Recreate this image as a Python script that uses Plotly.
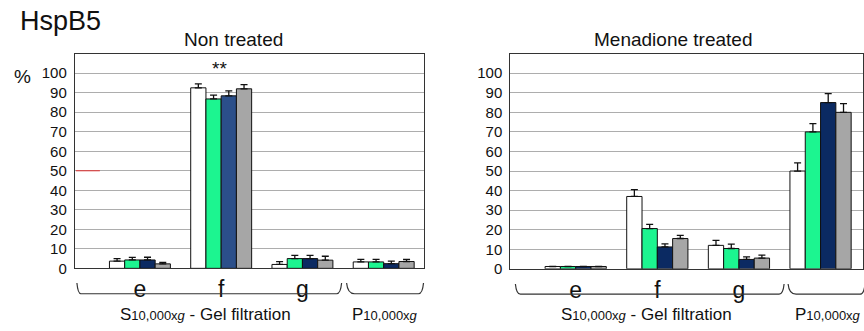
import plotly.graph_objects as go

W, H = 864, 331

# Fractions (e, f, g from the S10,000xg gel filtration; P = P10,000xg pellet)
positions = [0, 1, 2, 3]
category_labels = ["e", "f", "g", ""]
series_names = ["Series 1", "Series 2", "Series 3", "Series 4"]
series_colors = ["#ffffff", "#1cf590", "#0b2a62", "#a6a6a6"]

# Non treated: % per fraction, one list per series
nt_values = [
    [3.7, 92.5, 2.0, 3.3],
    [4.3, 86.8, 5.0, 3.3],
    [4.3, 88.4, 5.0, 2.4],
    [2.3, 92.0, 4.2, 3.5],
]
nt_errors = [
    [1.3, 2.0, 1.4, 1.3],
    [1.3, 2.0, 1.6, 1.3],
    [1.4, 2.5, 1.6, 1.3],
    [0.8, 2.1, 2.0, 1.1],
]

# Menadione treated
mt_values = [
    [1.2, 37.0, 12.0, 50.0],
    [1.2, 20.6, 10.4, 70.0],
    [1.2, 11.2, 4.8, 85.0],
    [1.2, 15.5, 5.5, 80.0],
]
mt_errors = [
    [0, 3.5, 2.6, 4.2],
    [0, 2.1, 2.2, 4.2],
    [0, 1.6, 1.3, 4.6],
    [0, 1.6, 1.5, 4.5],
]

FONT = "Liberation Sans, Arial, sans-serif"


def px(x):
    return x / W


def py(y):
    return 1 - y / H


fig = go.Figure()

for panel, (vals, errs, xa, ya) in enumerate(
    [(nt_values, nt_errors, "x", "y"), (mt_values, mt_errors, "x2", "y2")]
):
    for i in range(4):
        colors = [series_colors[i]] * 4
        if panel == 0 and i == 2:
            # the dominant non-treated fraction f is shaded lighter
            colors[1] = "#2b4f8a"
        fig.add_trace(
            go.Bar(
                x=positions,
                y=vals[i],
                name=series_names[i],
                marker=dict(color=colors, line=dict(color="#111111", width=1)),
                error_y=dict(
                    type="data",
                    symmetric=False,
                    array=errs[i],
                    arrayminus=[0] * 4,
                    color="#111111",
                    thickness=1.3,
                    width=3.5,
                ),
                xaxis=xa,
                yaxis=ya,
                showlegend=False,
            )
        )

common_x = dict(
    tickvals=[0, 1, 2],
    ticktext=category_labels[:3],
    tickfont=dict(size=23, color="#111111", family=FONT),
    showgrid=False,
    showline=True,
    linecolor="#333333",
    linewidth=1.3,
    mirror=True,
    ticks="",
    zeroline=False,
    fixedrange=True,
)
common_y = dict(
    range=[0, 110],
    tickvals=list(range(0, 101, 10)),
    tickfont=dict(size=15, color="#111111", family=FONT),
    ticks="outside",
    ticklen=4,
    tickcolor="rgba(0,0,0,0)",
    showgrid=True,
    gridcolor="#adadad",
    gridwidth=1,
    showline=True,
    linecolor="#333333",
    linewidth=1.3,
    mirror=True,
    zeroline=False,
    fixedrange=True,
)

fig.update_layout(
    width=W,
    height=H,
    margin=dict(l=0, r=0, t=0, b=0),
    paper_bgcolor="white",
    plot_bgcolor="white",
    barmode="group",
    bargap=0.25,
    bargroupgap=0,
    font=dict(family=FONT, color="#111111"),
    xaxis=dict(domain=[px(75), px(424)], anchor="y", range=[-0.8, 3.49], **common_x),
    yaxis=dict(domain=[py(275), py(55)], anchor="x", **common_y),
    xaxis2=dict(domain=[px(511), 1.0], anchor="y2", range=[-0.8, 3.52], **common_x),
    yaxis2=dict(domain=[py(275.5), py(55)], anchor="x2", **common_y),
)

annotations = [
    dict(x=px(18), y=py(22), text="HspB5", font=dict(size=27), xanchor="left"),
    dict(x=px(12), y=py(78), text="%", font=dict(size=19), xanchor="left"),
    dict(x=px(234), y=py(40), text="Non treated", font=dict(size=19)),
    dict(x=px(674), y=py(40), text="Menadione treated", font=dict(size=19)),
    dict(x=px(220), y=py(70), text="**", font=dict(size=19)),
    dict(
        x=px(206), y=py(322),
        text="S<span style='font-size:13px'>10,000x<i>g</i></span> - Gel filtration",
        font=dict(size=17),
    ),
    dict(
        x=px(385), y=py(322),
        text="P<span style='font-size:13px'>10,000x<i>g</i></span>",
        font=dict(size=17),
    ),
    dict(
        x=px(647), y=py(322),
        text="S<span style='font-size:13px'>10,000x<i>g</i></span> - Gel filtration",
        font=dict(size=17),
    ),
    dict(
        x=px(794), y=py(322),
        text="P<span style='font-size:13px'>10,000x<i>g</i></span>",
        font=dict(size=17), xanchor="left",
    ),
]
for a in annotations:
    a.update(xref="paper", yref="paper", showarrow=False)
    a.setdefault("xanchor", "center")
    a["yanchor"] = "middle"
    a["font"] = dict(family=FONT, color="#111111", **a["font"])
fig.update_layout(annotations=annotations)


def brace(x0, x1, y_top, y_bot, c0, c1):
    p = lambda x, y: f"{px(x)},{py(y)}"
    path = (
        f"M {p(x0, y_top)} Q {p(x0 + 1, y_bot)} {p(x0 + c0, y_bot)} "
        f"L {p(x1 - c1, y_bot)} Q {p(x1 - 1, y_bot)} {p(x1, y_top)}"
    )
    return dict(
        type="path", path=path, xref="paper", yref="paper",
        line=dict(color="#333333", width=1.2),
    )


shapes = [
    brace(77, 342, 290, 301, 4, 5),
    brace(347, 424, 290, 301, 8, 5),
    brace(516, 785, 291, 301.5, 5, 5),
    brace(789, 866, 291, 301.5, 8, 5),
    # faint red mark on the 50 % gridline
    dict(type="line", xref="paper", yref="y", x0=px(76), x1=px(100), y0=50, y1=50,
         line=dict(color="#e03030", width=1)),
]
fig.update_layout(shapes=shapes)

fig.write_html("out.html")
